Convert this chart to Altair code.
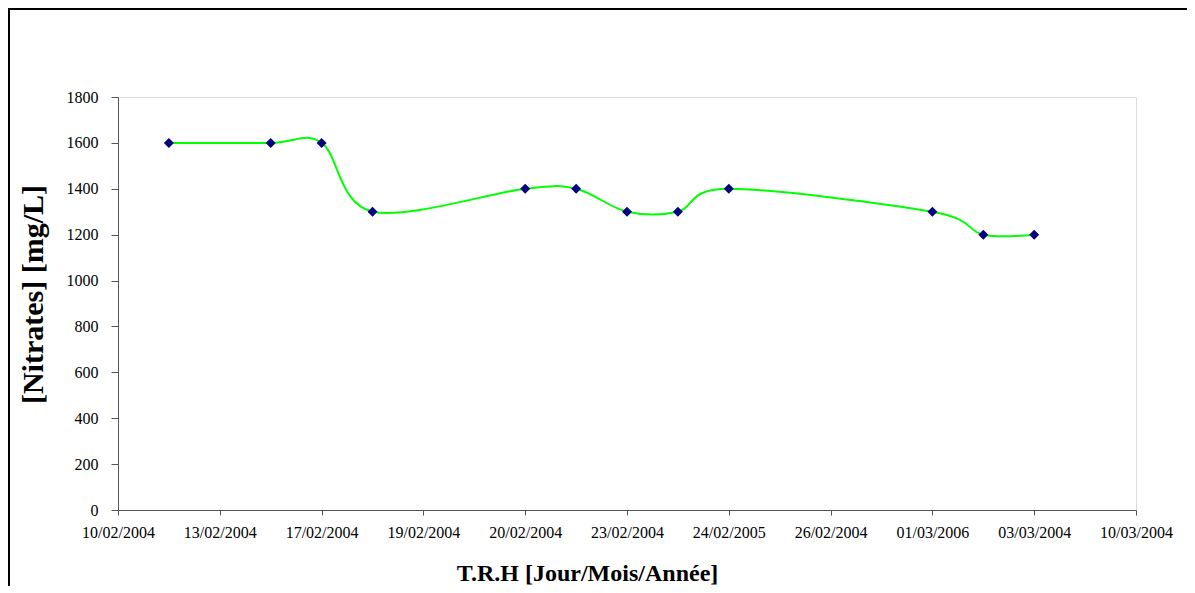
import altair as alt
import pandas as pd
import json

# Tick labels of the x axis (positions 0..10)
x_tick_labels = ["10/02/2004", "13/02/2004", "17/02/2004", "19/02/2004", "20/02/2004",
                 "23/02/2004", "24/02/2005", "26/02/2004", "01/03/2006", "03/03/2004",
                 "10/03/2004"]
# Sample positions on the x axis and nitrate concentrations
x_pos = [0.5, 1.5, 2, 2.5, 4, 4.5, 5, 5.5, 6, 8, 8.5, 9]
nitrates = [1600, 1600, 1600, 1300, 1400, 1400, 1300, 1300, 1400, 1300, 1200, 1200]

df = pd.DataFrame({"x": x_pos, "y": nitrates})

W, H = 1018, 413
FONT = "Liberation Serif"

label_expr = json.dumps(x_tick_labels).replace('"', "'") + "[round(datum.value)]"

x_enc = alt.X("x:Q",
              scale=alt.Scale(domain=[0, 10], nice=False, zero=False),
              axis=alt.Axis(values=list(range(11)), labelExpr=label_expr,
                            labelOverlap=False, labelBound=False, labelFlush=False,
                            title="T.R.H [Jour/Mois/Année]", grid=False,
                            tickSize=5, labelPadding=9, labelFontSize=16,
                            labelFont=FONT, labelColor="black",
                            titleFont=FONT, titleFontSize=24, titleFontWeight="bold",
                            titleColor="black", titleX=469, titleY=70,
                            titleAlign="center", titleBaseline="alphabetic",
                            domainColor="#555555", tickColor="#555555"))
y_enc = alt.Y("y:Q",
              scale=alt.Scale(domain=[0, 1800], nice=False),
              axis=alt.Axis(values=list(range(0, 1801, 200)), format="d",
                            labelOverlap=False, labelFlush=False,
                            title="[Nitrates] [mg/L]",
                            grid=False, tickSize=7, labelPadding=13, labelFontSize=16,
                            labelFont=FONT, labelColor="black",
                            titleFont=FONT, titleFontSize=30, titleFontWeight="bold",
                            titleColor="black", titleAngle=270, titleX=-85, titleY=197,
                            titleAlign="center", titleBaseline="middle",
                            domainColor="#555555", tickColor="#555555"))

base = alt.Chart(df)

line = base.mark_line(color="#00FF00", strokeWidth=2, interpolate="cardinal").encode(x=x_enc, y=y_enc)
points = base.mark_point(shape="diamond", filled=True, size=100, color="#000080", opacity=1).encode(x="x:Q", y="y:Q")

frame = alt.Chart(pd.DataFrame({"a": [0]})).mark_rect(
    fill=None, stroke="black", strokeWidth=2
).encode(
    x=alt.value(-109), x2=alt.value(W + 200),
    y=alt.value(-88), y2=alt.value(H + 200)
)

chart = alt.layer(frame, line, points).properties(
    width=W, height=H,
    autosize=alt.AutoSizeParams(type="none"),
    padding={"left": 110, "top": 89, "right": 51, "bottom": 76},
).configure_view(stroke="#808080", strokeWidth=1).configure(background="white")

chart.save("out.html", embed_options={"renderer": "svg", "actions": False})
